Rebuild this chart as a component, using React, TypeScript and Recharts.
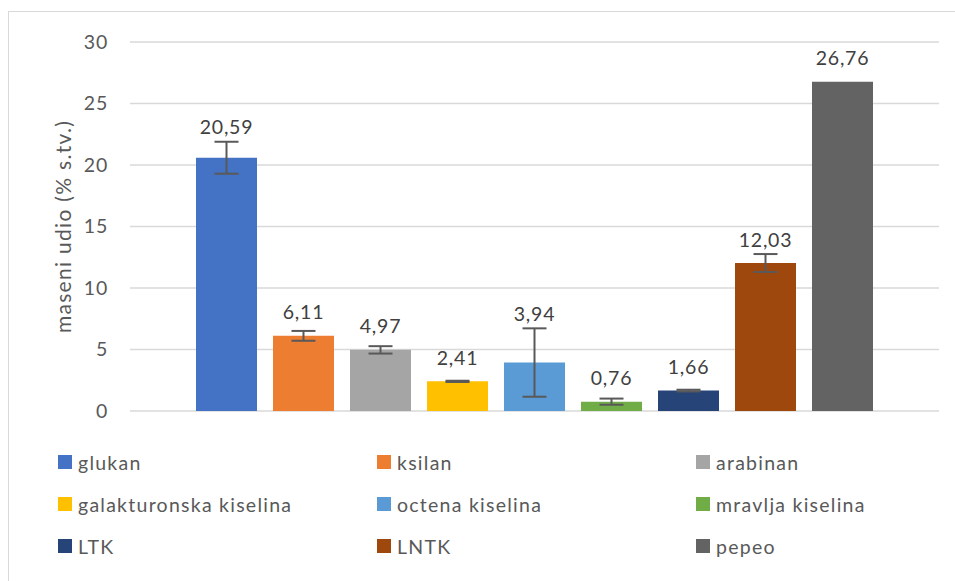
import { BarChart, Bar, XAxis, YAxis, CartesianGrid, ErrorBar, LabelList, Legend, Label } from 'recharts';

const seriesNames = [
  'glukan',
  'ksilan',
  'arabinan',
  'galakturonska kiselina',
  'octena kiselina',
  'mravlja kiselina',
  'LTK',
  'LNTK',
  'pepeo',
];
const seriesValues = [20.59, 6.11, 4.97, 2.41, 3.94, 0.76, 1.66, 12.03, 26.76];
const seriesErrors = [1.3, 0.4, 0.3, 0.05, 2.78, 0.25, 0.07, 0.73, 0];
const seriesColors = [
  '#4472C4',
  '#ED7D31',
  '#A5A5A5',
  '#FFC000',
  '#5B9BD5',
  '#70AD47',
  '#264478',
  '#9E480E',
  '#636363',
];
const yTicks = [0, 5, 10, 15, 20, 25, 30];
const yTitle = 'maseni udio (% s.tv.)';

const FONT = 'Lato, "Open Sans", sans-serif';

const row: Record<string, number | string> = { name: '' };
seriesNames.forEach((n, i) => {
  row[`s${i}`] = seriesValues[i];
  row[`e${i}`] = seriesErrors[i];
});
const data = [row];

const fmt = (v: number) => v.toFixed(2).replace('.', ',');

function makeLabel(i: number) {
  return (props: any) => {
    const { x, y, width, height, value } = props;
    const pxPerUnit = value ? height / value : 0;
    const errTop = y - seriesErrors[i] * pxPerUnit;
    const cy = Math.min(y - 24, errTop - 15);
    return (
      <text
        x={x + width / 2}
        y={cy}
        textAnchor="middle"
        dominantBaseline="central"
        fill="#404040"
        fontSize={19.5}
        fontFamily={FONT}
        letterSpacing={0.8}
      >
        {fmt(value)}
      </text>
    );
  };
}

function YTitle(props: any) {
  const { viewBox } = props;
  const cx = 62;
  const cy = viewBox.y + viewBox.height / 2;
  return (
    <text
      x={cx}
      y={cy}
      transform={`rotate(-90, ${cx}, ${cy})`}
      textAnchor="middle"
      dominantBaseline="central"
      fill="#595959"
      style={{ fontSize: 21, fontFamily: FONT, letterSpacing: 1.3 }}
    >
      {yTitle}
    </text>
  );
}

function LegendGrid() {
  return (
    <div style={{ position: 'relative', width: 955, height: 130, fontFamily: FONT }}>
      {seriesNames.map((n, i) => {
        const col = i % 3;
        const r = Math.floor(i / 3);
        return (
          <div
            key={n}
            style={{
              position: 'absolute',
              left: 58 + col * 319,
              top: r * 42,
              height: 24,
              display: 'flex',
              alignItems: 'center',
              whiteSpace: 'nowrap',
            }}
          >
            <span style={{ width: 14, height: 14, background: seriesColors[i], display: 'inline-block' }} />
            <span style={{ marginLeft: 6, fontSize: 19.5, letterSpacing: 1.25, color: '#595959' }}>{n}</span>
          </div>
        );
      })}
    </div>
  );
}

export default function App() {
  return (
    <div style={{ position: 'fixed', left: 0, top: 0, width: 955, height: 581, overflow: 'hidden', background: '#fff' }}>
      <div
        style={{
          position: 'absolute',
          left: 8,
          top: 11,
          width: 960,
          height: 590,
          border: '1px solid #d9d9d9',
          boxSizing: 'border-box',
        }}
      />
      <div style={{ position: 'absolute', left: 0, top: 0 }}>
        <BarChart
          width={955}
          height={581}
          data={data}
          margin={{ top: 42, right: 16, bottom: 170, left: 0 }}
          barGap={16}
          barCategoryGap={0}
        >
          <CartesianGrid horizontal vertical={false} stroke="#d9d9d9" strokeWidth={1.3} />
          <XAxis dataKey="name" hide />
          <YAxis
            width={130}
            domain={[0, 30]}
            ticks={yTicks}
            axisLine={false}
            tickLine={false}
            tickSize={0}
            tickMargin={22}
            tick={{ fill: '#595959', fontSize: 19.5, fontFamily: FONT, letterSpacing: 0.8 }}
          >
            <Label content={<YTitle />} />
          </YAxis>
          <Legend
            layout="horizontal"
            verticalAlign="middle"
            align="center"
            wrapperStyle={{ left: 0, top: 450, width: 955 }}
            content={() => <LegendGrid />}
          />
          {seriesNames.map((n, i) => (
            <Bar
              key={n}
              dataKey={`s${i}`}
              name={n}
              fill={seriesColors[i]}
              barSize={61}
              isAnimationActive={false}
            >
              {seriesErrors[i] > 0 && (
                <ErrorBar dataKey={`e${i}`} width={12} stroke="#595959" strokeWidth={2} direction="y" />
              )}
              <LabelList dataKey={`s${i}`} content={makeLabel(i)} />
            </Bar>
          ))}
        </BarChart>
      </div>
    </div>
  );
}
